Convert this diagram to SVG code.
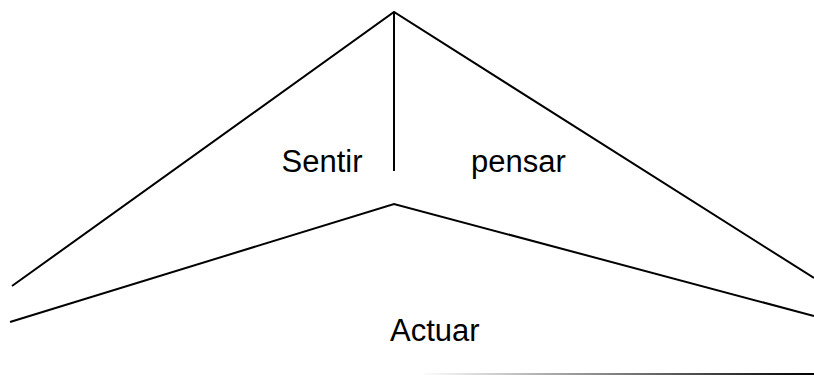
<svg xmlns="http://www.w3.org/2000/svg" width="814" height="375" viewBox="0 0 814 375">
<defs>
<linearGradient id="fade" x1="0" y1="0" x2="1" y2="0">
<stop offset="0" stop-color="#fff"/>
<stop offset="1" stop-color="#000"/>
</linearGradient>
<style>
.ln{fill:none;stroke:#000;stroke-width:2}
.lb{font-family:"Liberation Sans",Arial,sans-serif;font-size:31px;fill:#000}
</style>
</defs>
<rect width="814" height="375" fill="#fff"/>
<g id="connectors">
<polyline class="ln" points="12,286 394,12 814,278"/>
<line class="ln" x1="394" y1="12" x2="394" y2="171"/>
<polyline class="ln" points="10,322 394,204 814,316"/>
<rect x="420" y="373" width="394" height="2" fill="url(#fade)"/>
</g>
<g id="sentir"><text class="lb" x="281.5" y="172">Sentir</text></g>
<g id="pensar"><text class="lb" x="471" y="172">pensar</text></g>
<g id="actuar"><text class="lb" x="390" y="341">Actuar</text></g>
</svg>
